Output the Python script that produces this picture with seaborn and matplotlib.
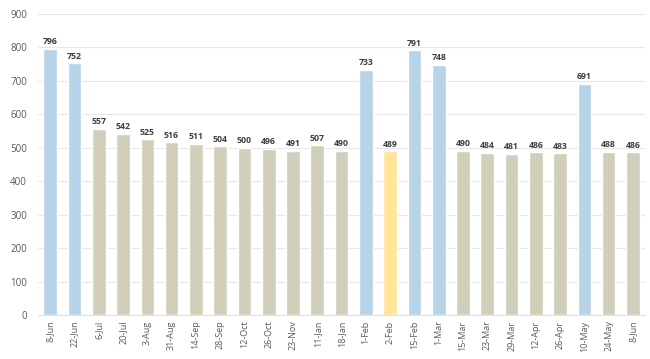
import matplotlib
matplotlib.use("Agg")
import matplotlib.pyplot as plt
import seaborn as sns
import pandas as pd

dates = ["8-Jun", "22-Jun", "6-Jul", "20-Jul", "3-Aug", "31-Aug", "14-Sep", "28-Sep",
         "12-Oct", "26-Oct", "23-Nov", "11-Jan", "18-Jan", "1-Feb", "2-Feb", "15-Feb",
         "1-Mar", "15-Mar", "23-Mar", "29-Mar", "12-Apr", "26-Apr", "10-May", "24-May", "8-Jun"]
values = [796, 752, 557, 542, 525, 516, 511, 504, 500, 496, 491, 507, 490, 733, 489, 791,
          748, 490, 484, 481, 486, 483, 691, 488, 486]
groups = ["blue", "blue", "tan", "tan", "tan", "tan", "tan", "tan", "tan", "tan", "tan",
          "tan", "tan", "blue", "yellow", "blue", "blue", "tan", "tan", "tan", "tan", "tan",
          "blue", "tan", "tan"]
palette = {"blue": "#B7D3E8", "tan": "#D1CFBA", "yellow": "#FFE599"}

df = pd.DataFrame({"key": [str(i) for i in range(len(dates))], "value": values, "group": groups})

sns.set_style("white")
plt.rcParams['font.family'] = ['Open Sans', 'DejaVu Sans']

fig = plt.figure(figsize=(6.5, 3.59), dpi=100)
ax = fig.add_axes([0.0585, 0.1226, 0.934, 0.8384])
sns.barplot(data=df, x="key", y="value", hue="group", palette=palette, dodge=False,
            saturation=1, width=0.56, legend=False, ax=ax, order=df["key"].tolist())

ax.set_ylim(0, 900)
ax.set_yticks(range(0, 901, 100))
ax.set_xlim(-0.5, len(dates) - 0.5)
ax.yaxis.grid(True, color="#E8E8E8", linewidth=0.8)
ax.set_axisbelow(True)
for s in ["top", "right", "left"]:
    ax.spines[s].set_visible(False)
ax.spines["bottom"].set_color("#E0E0E0")
ax.set_xlabel("")
ax.set_ylabel("")
ax.set_xticks(range(len(dates)))
ax.set_xticklabels(dates, rotation=90, fontsize=6.5, color="#595959")
ax.tick_params(axis="y", labelsize=7, labelcolor="#595959", length=0, pad=8)
ax.tick_params(axis="x", length=0, pad=4)

for i, v in enumerate(values):
    ax.text(i, v + 8, str(v), ha="center", va="bottom", fontsize=6.3, fontweight="bold",
            color="#404040")

fig.savefig("out.png", dpi=100)
